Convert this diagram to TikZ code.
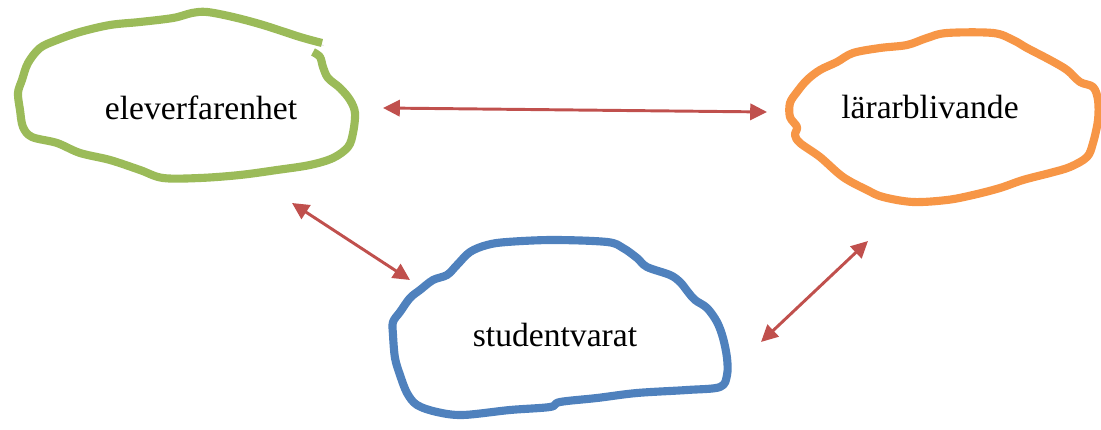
\documentclass[tikz,border=0pt]{standalone}
\usepackage{fontspec}
\setmainfont{Liberation Serif}
\usetikzlibrary{arrows.meta}
\definecolor{ofgreen}{HTML}{9BBB59}
\definecolor{oforange}{HTML}{F79646}
\definecolor{ofblue}{HTML}{4F81BD}
\definecolor{ofred}{HTML}{C0504D}
\tikzstyle{arrow}=[{Triangle[length=6pt,width=5.8pt]}-{Triangle[length=6pt,width=5.8pt]},
                   line width=1.05pt,draw=ofred]
\tikzstyle{blob}=[line width=2.9pt,line join=round,
                  preaction={draw=black!10,transform canvas={shift={(.6pt,-.9pt)}}}]
\tikzstyle{term}=[font=\fontsize{12}{14}\selectfont,inner sep=0pt]

\begin{document}
\begin{tikzpicture}[x=0.357pt,y=-0.357pt]
	\useasboundingbox (0,0) rectangle (1101,430);

	% the three blobs
	\draw[blob,ofgreen] plot[smooth,tension=.55] coordinates {(322,43) (300,37) (263,25)
		(233,17) (207,12) (192,13) (173,18) (140,22) (110,25) (80,32) (57,40) (40,48)
		(28,63) (22,80) (18,93) (20,110) (23,127) (32,137) (57,143) (80,153) (110,160)
		(140,170) (163,178) (200,178) (240,175) (277,170) (310,165) (333,158) (348,147)
		(353,133) (355,113) (350,100) (340,88) (328,78) (323,67) (320,57) (313,52)};
	\draw[blob,oforange] plot[smooth cycle,tension=.55] coordinates {(947,33) (993,33)
		(1013,40) (1027,48) (1050,60) (1067,70) (1080,82) (1093,87) (1098,100) (1098,120)
		(1093,143) (1087,157) (1070,167) (1050,173) (1023,180) (1000,188) (973,195)
		(947,200) (913,202) (883,197) (867,190) (843,177) (820,157) (800,143) (795,135)
		(797,127) (790,117) (790,103) (797,92) (807,80) (820,70) (837,62) (853,53)
		(880,48) (907,45) (927,38)};
	\draw[blob,ofblue] plot[smooth cycle,tension=.55] coordinates {(507,242) (553,240)
		(607,242) (623,248) (637,258) (647,267) (670,275) (680,282) (688,292) (695,300)
		(707,308) (717,322) (723,338) (727,358) (727,375) (720,387) (687,390) (637,393)
		(597,398) (560,402) (550,407) (510,410) (463,415) (437,412) (417,405) (407,393)
		(400,375) (395,358) (393,335) (393,322) (400,312) (410,298) (420,290) (433,280)
		(447,275) (457,265) (470,252) (487,245)};

	% texts
	\node[term] (elev)    at (201,108) {eleverfarenhet};
	\node[term] (larar)   at (930,107) {lärarblivande};
	\node[term] (student) at (555,335) {studentvarat};

	% arrow ends
	\coordinate (elev-r)    at (383,108);
	\coordinate (elev-b)    at (292,203);
	\coordinate (larar-l)   at (767,112);
	\coordinate (larar-b)   at (868,241);
	\coordinate (student-l) at (410,280);
	\coordinate (student-r) at (761,342);

	\draw[arrow] (elev-r) -- (larar-l);
	\draw[arrow] (elev-b) -- (student-l);
	\draw[arrow] (larar-b) -- (student-r);
\end{tikzpicture}
\end{document}
